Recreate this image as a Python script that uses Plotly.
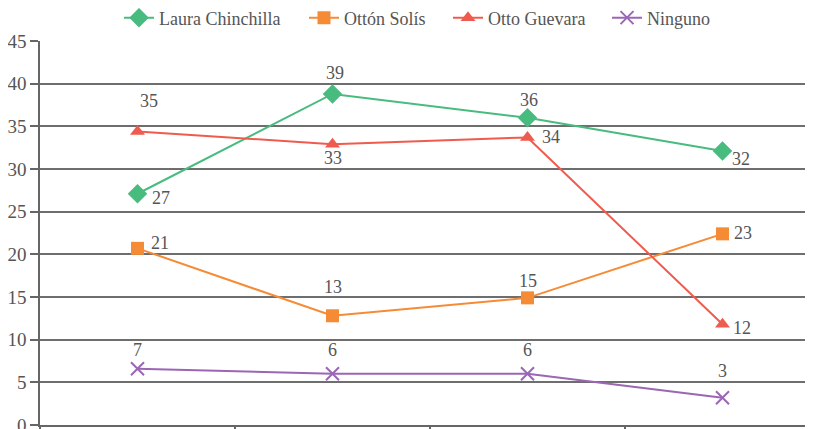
import plotly.graph_objects as go

categories = [0, 1, 2, 3]
series_names = ["Laura Chinchilla", "Ottón Solís", "Otto Guevara", "Ninguno"]
laura = [27.1, 38.8, 36.0, 32.1]
otton = [20.7, 12.8, 14.9, 22.4]
otto = [34.4, 32.9, 33.7, 11.8]
ninguno = [6.6, 6.0, 6.0, 3.2]
laura_labels = ["27", "39", "36", "32"]
otton_labels = ["21", "13", "15", "23"]
otto_labels = ["35", "33", "34", "12"]
ninguno_labels = ["7", "6", "6", "3"]
y_ticks = [0, 5, 10, 15, 20, 25, 30, 35, 40, 45]

colors = ["#48bb7e", "#f68b36", "#ef5b4e", "#9b66b4"]
symbols = ["diamond", "square", "triangle-up", "x-thin"]
sizes = [15, 13, 13, 13]
values = [laura, otton, otto, ninguno]
labels = [laura_labels, otton_labels, otto_labels, ninguno_labels]
offsets = [
    [(23, -4), (2, 21), (1, 18), (18, -8)],
    [(22, 5), (0, 29), (0, 17), (20, 1)],
    [(11, 30), (0, -14), (23, 0), (19, -4)],
    [(0, 19), (0, 24), (0, 24), (0, 27)],
]
legend_ids = ["legend", "legend2", "legend3", "legend4"]
legend_left_px = [111, 296, 440, 599]

FONT = "Liberation Serif, Times New Roman, serif"
W, H = 813, 429
fig = go.Figure()
for name, vals, c, s, sz, lid in zip(series_names, values, colors, symbols, sizes, legend_ids):
    marker = dict(color=c, size=sz, symbol=s)
    if s == "x-thin":
        marker["line"] = dict(color=c, width=2)
    fig.add_trace(go.Scatter(x=categories, y=vals, name=name, mode="lines+markers",
                             line=dict(color=c, width=2), marker=marker,
                             cliponaxis=False, legend=lid))

for vals, labs, offs in zip(values, labels, offsets):
    for x, y, t, (dx, dy) in zip(categories, vals, labs, offs):
        fig.add_annotation(x=x, y=y, text=t, showarrow=False, xshift=dx, yshift=dy,
                           font=dict(family=FONT, size=18, color="#555555"))

layout_legends = {}
for lid, px in zip(legend_ids, legend_left_px):
    layout_legends[lid] = dict(
        orientation="h", x=px / W, xref="container", xanchor="left",
        y=1.06, yref="paper", yanchor="middle",
        font=dict(family=FONT, size=18, color="#555555"),
        bgcolor="rgba(0,0,0,0)")

fig.update_layout(
    width=W, height=H,
    margin=dict(l=32, r=1, t=33, b=12, autoexpand=False),
    paper_bgcolor="white", plot_bgcolor="white",
    font=dict(family=FONT, size=18, color="#555555"),
    showlegend=True,
    **layout_legends,
)
fig.update_xaxes(range=[-0.5, 3.5], showgrid=False, zeroline=False, automargin=False,
                 showline=True, linecolor="#666666", linewidth=1.5,
                 tickmode="array", tickvals=[-0.5, 0.5, 1.5, 2.5, 3.5],
                 ticktext=["", "", "", "", ""], ticks="outside", ticklen=6,
                 tickcolor="#666666", tickwidth=1.5)
fig.update_yaxes(range=[0, 45], tickvals=y_ticks, showgrid=True, automargin=False,
                 gridcolor="#6e6e6e", gridwidth=1.5, zeroline=False,
                 showline=True, linecolor="#666666", linewidth=1.5,
                 ticks="outside", ticklen=8, tickcolor="#666666", tickwidth=1.5,
                 tickfont=dict(family=FONT, size=19, color="#555555"))

fig.write_html("out.html")
